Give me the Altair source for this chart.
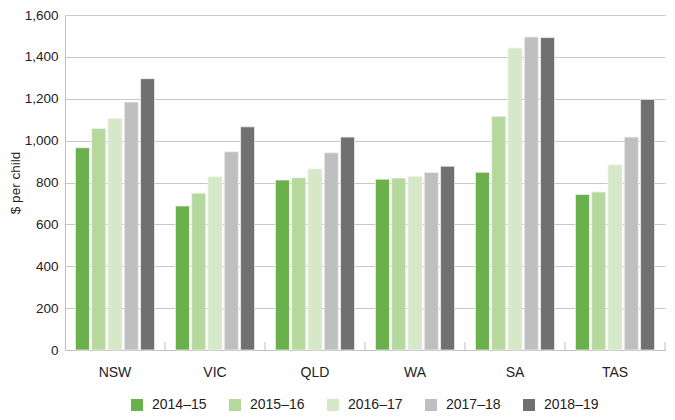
import altair as alt
import pandas as pd

states = ["NSW", "VIC", "QLD", "WA", "SA", "TAS"]
years = ["2014–15", "2015–16", "2016–17", "2017–18", "2018–19"]
v_2014_15 = [966, 688, 812, 816, 849, 743]
v_2015_16 = [1058, 749, 823, 821, 1116, 755]
v_2016_17 = [1106, 827, 865, 829, 1442, 884]
v_2017_18 = [1184, 947, 942, 848, 1495, 1017]
v_2018_19 = [1296, 1066, 1017, 878, 1492, 1197]
colors = ["#6ab04c", "#b5d99c", "#d5e8c8", "#bfbfbf", "#717070"]

series = [v_2014_15, v_2015_16, v_2016_17, v_2017_18, v_2018_19]
rows = []
for y, vals in zip(years, series):
    for s, v in zip(states, vals):
        rows.append({"state": s, "year": y, "value": v})
df = pd.DataFrame(rows)

font = "Liberation Sans"
txt = "#222222"

y_axis = alt.Axis(values=list(range(0, 1601, 200)), format=",.0f", ticks=False,
                  grid=True, gridColor="#c8c8c8", domainColor="#bfbfbf",
                  labelPadding=7, labelFontSize=13.5, labelColor=txt,
                  labelFont=font, titleFont=font, titleFontSize=13.5,
                  titleFontWeight="normal", titleColor=txt, titlePadding=2)
y_scale = alt.Scale(domain=[0, 1600])

bars = alt.Chart(df).mark_bar(stroke="#f0f0f0", strokeWidth=0.8).encode(
    x=alt.X("state:N", sort=states, title=None,
            scale=alt.Scale(paddingInner=0, paddingOuter=0),
            axis=alt.Axis(labelAngle=0, ticks=False, domainColor="#bfbfbf",
                          labelPadding=15, labelFontSize=14, labelColor=txt,
                          labelFont=font)),
    xOffset=alt.XOffset("year:N", sort=years,
                        scale=alt.Scale(paddingInner=0.14, paddingOuter=0.64)),
    y=alt.Y("value:Q", title="$ per child", scale=y_scale, axis=y_axis),
    color=alt.Color("year:N", sort=years,
                    scale=alt.Scale(domain=years, range=colors),
                    legend=alt.Legend(title=None, orient="none", direction="horizontal",
                                      legendX=65, legendY=383,
                                      symbolType="square", symbolSize=144,
                                      symbolStrokeWidth=0, labelFontSize=14,
                                      labelFont=font, labelColor=txt, labelOffset=8,
                                      columnPadding=21)),
)

ticks_df = pd.DataFrame({"state": states, "y0": [0] * 6, "y1": [38] * 6})
ticks = alt.Chart(ticks_df).mark_rule(color="#bfbfbf").encode(
    x=alt.X("state:N", sort=states, bandPosition=1, title=None),
    y=alt.Y("y0:Q", title="$ per child", scale=y_scale, axis=y_axis),
    y2="y1:Q",
)

chart = alt.layer(bars, ticks).properties(
    width=600, height=335,
    padding={"left": 0, "top": 0, "right": 0, "bottom": 0},
).configure_view(stroke=None)

chart.save("out.html", embed_options={"renderer": "svg", "actions": False})
